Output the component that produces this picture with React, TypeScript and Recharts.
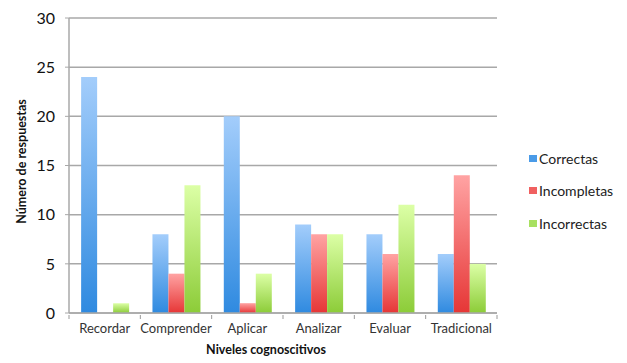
import { BarChart, Bar, XAxis, YAxis, CartesianGrid } from "recharts";

const niveles = ["Recordar", "Comprender", "Aplicar", "Analizar", "Evaluar", "Tradicional"];
const correctas = [24, 8, 20, 9, 8, 6];
const incompletas = [0, 4, 1, 8, 6, 14];
const incorrectas = [1, 13, 4, 8, 11, 5];
const yTicks = [0, 5, 10, 15, 20, 25, 30];

const series = [
  { key: "correctas", name: "Correctas", top: "#a3cdfb", bottom: "#2f8ae0", swatch: "#4a9be8" },
  { key: "incompletas", name: "Incompletas", top: "#ffa3a3", bottom: "#e63636", swatch: "#f06060" },
  { key: "incorrectas", name: "Incorrectas", top: "#dcffa6", bottom: "#8ccc38", swatch: "#a8e060" },
];

const data = niveles.map((n, i) => ({
  name: n,
  correctas: correctas[i],
  incompletas: incompletas[i],
  incorrectas: incorrectas[i],
}));

const font = "Lato, 'Open Sans', sans-serif";

function CategoryTick(props: any) {
  const { x, y, payload, index } = props;
  const half = payload.offset || 0;
  return (
    <g>
      <line x1={x - half} x2={x - half} y1={y - 6} y2={y - 2} stroke="#999" />
      {index === niveles.length - 1 && (
        <line x1={x + half} x2={x + half} y1={y - 6} y2={y - 2} stroke="#999" />
      )}
      <text x={x} y={y + 12} textAnchor="middle" fontSize={13} fill="#333" fontFamily={font}>
        {payload.value}
      </text>
    </g>
  );
}

export default function App() {
  return (
    <div style={{ position: "absolute", left: 0, top: 0, width: 627, height: 363, background: "#fff" }}>
      <BarChart
        width={627}
        height={363}
        data={data}
        margin={{ top: 18, right: 130, left: 29, bottom: 20 }}
        barGap={0}
        barCategoryGap="17%"
      >
        <defs>
          {series.map((s) => (
            <linearGradient key={s.key} id={`grad-${s.key}`} x1="0" y1="0" x2="0" y2="1">
              <stop offset="0%" stopColor={s.top} />
              <stop offset="100%" stopColor={s.bottom} />
            </linearGradient>
          ))}
        </defs>
        <CartesianGrid vertical={false} stroke="#a8a8a8" strokeWidth={1.5} />
        <XAxis
          dataKey="name"
          height={30}
          axisLine={{ stroke: "#a8a8a8", strokeWidth: 1.5 }}
          tickLine={false}
          tick={<CategoryTick />}
          interval={0}
          label={{
            value: "Niveles cognoscitivos",
            position: "bottom",
            offset: 2,
            dx: -17,
            style: { fontSize: 12.5, fontWeight: 700, fill: "#111", fontFamily: font },
          }}
        />
        <YAxis
          width={40}
          domain={[0, 30]}
          ticks={yTicks}
          interval={0}
          axisLine={{ stroke: "#a8a8a8", strokeWidth: 1.5 }}
          tickLine={{ stroke: "#a8a8a8" }}
          tickSize={4}
          tickMargin={10}
          tick={{ fontSize: 16, fill: "#111", fontFamily: font }}
          label={{
            value: "Número de respuestas",
            angle: -90,
            position: "center",
            dx: -27,
            dy: -4,
            style: { fontSize: 12.5, fontWeight: 700, fill: "#111", fontFamily: font, textAnchor: "middle" },
          }}
        />
        {series.map((s) => (
          <Bar key={s.key} dataKey={s.key} name={s.name} fill={`url(#grad-${s.key})`} isAnimationActive={false} />
        ))}
      </BarChart>
      <div style={{ position: "absolute", left: 529, top: 148, fontFamily: font, fontSize: 14, color: "#222" }}>
        {series.map((s) => (
          <div key={s.key} style={{ display: "flex", alignItems: "center", height: 20, marginBottom: 12.5 }}>
            <span style={{ width: 8, height: 7, background: s.swatch, marginRight: 2, display: "inline-block" }} />
            {s.name}
          </div>
        ))}
      </div>
    </div>
  );
}
